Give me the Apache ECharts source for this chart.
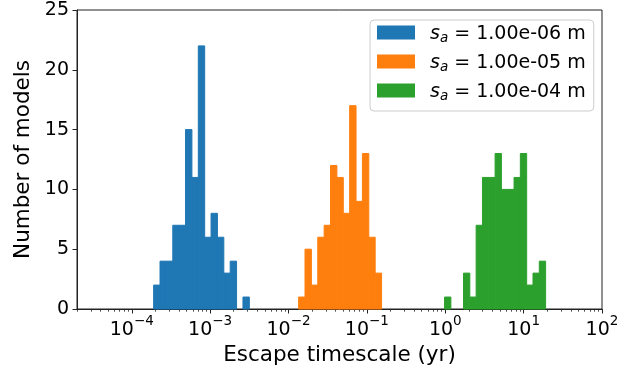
<!DOCTYPE html>
<html>
<head>
<meta charset="utf-8">
<script src="https://cdn.jsdelivr.net/npm/echarts@6/dist/echarts.min.js"></script>
<style>html,body{margin:0;padding:0;background:#fff;}#c{width:637px;height:372px;}</style>
</head>
<body>
<div id="c"></div>
<script>
// ---- data (x values are log10 of escape timescale in yr) ----
const seriesNames = ['s_a = 1.00e-06 m', 's_a = 1.00e-05 m', 's_a = 1.00e-04 m'];
const legendSizes = ['1.00e-06', '1.00e-05', '1.00e-04'];
const blueBinStart = -3.721, blueBinWidth = 0.0814;
const blueCounts = [2, 4, 4, 7, 7, 15, 11, 22, 6, 8, 6, 3, 4, 0, 1];
const orangeBinStart = -1.871, orangeBinWidth = 0.0814;
const orangeCounts = [1, 5, 2, 6, 7, 12, 11, 8, 17, 9, 13, 6, 3];
const greenBinStart = -0.009, greenBinWidth = 0.0806;
const greenCounts = [1, 0, 0, 3, 1, 7, 11, 11, 13, 10, 10, 11, 13, 2, 3, 4];
const xMajorTicks = [-4, -3, -2, -1, 0, 1, 2];
const xTickLabels = ['10|−4', '10|−3', '10|−2', '10|−1', '10|0', '10|1', '10|2'];
const yTicks = [0, 5, 10, 15, 20, 25];
const xMinLog = Math.log10(2e-5), xMaxLog = 2;

const colors = ['#1f77b4', '#ff7f0e', '#2ca02c'];
const FONT = 'DejaVu Sans';

function bins(start, width, counts) {
  return counts.map((c, i) => [start + i * width, start + (i + 1) * width, c]);
}
const minorTicks = [];
for (let d = -5; d < 2; d++) {
  for (let k = 2; k <= 9; k++) {
    const v = d + Math.log10(k);
    if (v >= xMinLog - 1e-9 && v <= xMaxLog) minorTicks.push(v);
  }
}

function renderItem(params, api) {
  const x0 = api.value(0), x1 = api.value(1), c = api.value(2);
  if (!c) return null;
  const p0 = api.coord([x0, c]);
  const p1 = api.coord([x1, 0]);
  const col = api.visual('color');
  return {
    type: 'rect',
    shape: { x: p0[0], y: p0[1], width: p1[0] - p0[0], height: p1[1] - p0[1] },
    style: { fill: col, stroke: col, lineWidth: 1 }
  };
}

const allBins = [
  bins(blueBinStart, blueBinWidth, blueCounts),
  bins(orangeBinStart, orangeBinWidth, orangeCounts),
  bins(greenBinStart, greenBinWidth, greenCounts)
];

const chart = echarts.init(document.getElementById('c'), null, { renderer: 'canvas' });
const gridRect = { left: 77, right: 35, top: 10, bottom: 63, containLabel: false, outerBoundsMode: 'none' };
chart.setOption({
  animation: false,
  backgroundColor: '#fff',
  textStyle: { fontFamily: FONT },
  grid: [
    Object.assign({ show: true, borderColor: '#222', borderWidth: 1, backgroundColor: 'transparent' }, gridRect),
    Object.assign({ show: false }, gridRect)
  ],
  xAxis: [
    {
      type: 'value', gridIndex: 0, min: xMinLog, max: xMaxLog,
      splitLine: { show: false },
      axisLine: { show: true, onZero: false, lineStyle: { color: '#222', width: 1 } },
      axisTick: { show: true, length: 4.5, customValues: xMajorTicks, lineStyle: { color: '#222', width: 1 } },
      axisLabel: {
        show: true, margin: 5, customValues: xMajorTicks, color: '#000',
        formatter: function (v) {
          const i = xMajorTicks.findIndex(t => Math.abs(t - v) < 1e-6);
          if (i < 0) return '';
          const parts = xTickLabels[i].split('|');
          return '{b|' + parts[0] + '}{s|' + parts[1] + '}';
        },
        rich: {
          b: { fontFamily: FONT, fontSize: 19, color: '#000', padding: [7, 0, 0, 0], verticalAlign: 'bottom' },
          s: { fontFamily: FONT, fontSize: 13.5, color: '#000', verticalAlign: 'top' }
        }
      },
      name: 'Escape timescale (yr)', nameLocation: 'middle', nameGap: 35,
      nameTextStyle: { fontFamily: FONT, fontSize: 21.5, color: '#000' }
    },
    {
      type: 'value', gridIndex: 1, min: xMinLog, max: xMaxLog,
      splitLine: { show: false },
      axisLine: { show: false, onZero: false },
      axisTick: { show: true, length: 2.7, customValues: minorTicks, lineStyle: { color: '#222', width: 0.8 } },
      axisLabel: { show: false }
    }
  ],
  yAxis: [
    {
      type: 'value', gridIndex: 0, min: 0, max: 25, interval: 5,
      splitLine: { show: false },
      axisLine: { show: true, onZero: false, lineStyle: { color: '#222', width: 1 } },
      axisTick: { show: true, length: 4.5, lineStyle: { color: '#222', width: 1 } },
      axisLabel: { margin: 8, color: '#000', fontSize: 19, fontFamily: FONT },
      name: 'Number of models', nameLocation: 'middle', nameGap: 39,
      nameTextStyle: { fontFamily: FONT, fontSize: 21.5, color: '#000' }
    },
    { type: 'value', gridIndex: 1, min: 0, max: 25, show: false, axisLine: { show: false, onZero: false } }
  ],
  legend: {
    orient: 'vertical', left: 370, top: 20,
    padding: [5, 8, 8, 7], itemGap: 9,
    itemWidth: 38, itemHeight: 14,
    borderColor: '#cccccc', borderWidth: 1, borderRadius: 4,
    backgroundColor: 'rgba(255,255,255,0.8)',
    icon: 'rect',
    data: seriesNames,
    formatter: function (name) {
      const i = seriesNames.indexOf(name);
      return '{v|s}{a|a}{t| = ' + legendSizes[i] + ' m}';
    },
    textStyle: {
      padding: [0, 0, 0, 10],
      rich: {
        v: { fontFamily: FONT, fontStyle: 'italic', fontSize: 19, color: '#000', padding: [5, 0, 1, 0], verticalAlign: 'bottom' },
        a: { fontFamily: FONT, fontStyle: 'italic', fontSize: 13.5, color: '#000', verticalAlign: 'bottom' },
        t: { fontFamily: FONT, fontSize: 19, color: '#000', padding: [5, 0, 1, 0], verticalAlign: 'bottom' }
      }
    }
  },
  series: allBins.map((d, i) => ({
    name: seriesNames[i],
    type: 'custom',
    xAxisIndex: 0, yAxisIndex: 0,
    renderItem: renderItem,
    itemStyle: { color: colors[i] },
    encode: { x: [0, 1], y: 2 },
    data: d
  }))
});
</script>
</body>
</html>
